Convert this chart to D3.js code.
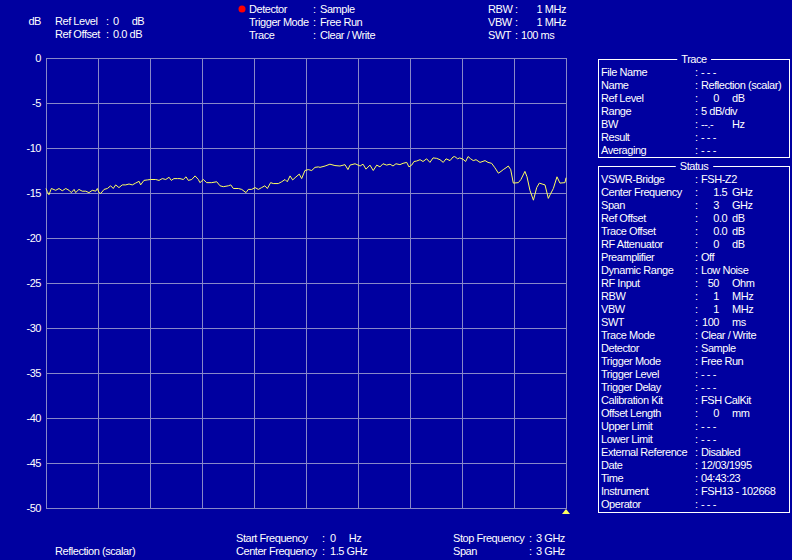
<!DOCTYPE html>
<head>
  <meta charset="utf-8">
  <script src="https://d3js.org/d3.v7.min.js"></script>
  <style>
    body { margin: 0; background: #0000a0; }
    svg text { font-family: Arial, "Liberation Sans", sans-serif; font-size: 11px; letter-spacing: -0.45px; fill: #fff; }
  </style>
</head>
<body>
  <div id="chart"></div>
  <script>
    // trace readings: frequency (GHz) and level (dB)
    var freqGHz = [0, 0.0075, 0.017, 0.031, 0.056, 0.075, 0.094, 0.114, 0.133, 0.146, 0.162, 0.171, 0.19, 0.209, 0.229, 0.248, 0.267, 0.287, 0.296, 0.306,
      0.316, 0.335, 0.354, 0.373, 0.388, 0.402, 0.421, 0.44, 0.46, 0.479, 0.498, 0.517, 0.537, 0.546, 0.565, 0.584, 0.604, 0.633, 0.652, 0.671,
      0.691, 0.71, 0.723, 0.738, 0.758, 0.773, 0.792, 0.808, 0.821, 0.841, 0.86, 0.879, 0.888, 0.908, 0.927, 0.956, 0.985, 1.004, 1.023, 1.052,
      1.066, 1.081, 1.11, 1.129, 1.154, 1.167, 1.187, 1.206, 1.225, 1.244, 1.263, 1.277, 1.296, 1.311, 1.34, 1.36, 1.379, 1.392, 1.408, 1.423,
      1.437, 1.461, 1.475, 1.494, 1.513, 1.533, 1.552, 1.571, 1.581, 1.61, 1.638, 1.667, 1.696, 1.725, 1.742, 1.754, 1.783, 1.812, 1.829, 1.846,
      1.869, 1.888, 1.908, 1.927, 1.944, 1.965, 1.985, 2.002, 2.019, 2.042, 2.06, 2.081, 2.094, 2.11, 2.123, 2.138, 2.158, 2.175, 2.196, 2.215,
      2.233, 2.254, 2.273, 2.292, 2.308, 2.331, 2.348, 2.358, 2.375, 2.387, 2.406, 2.421, 2.435, 2.45, 2.465, 2.481, 2.504, 2.533, 2.55, 2.571,
      2.59, 2.61, 2.625, 2.638, 2.654, 2.667, 2.681, 2.696, 2.725, 2.74, 2.763, 2.775, 2.792, 2.812, 2.831, 2.846, 2.862, 2.879, 2.898, 2.908,
      2.927, 2.948, 2.965, 2.994, 3.0];
    var levelDb = [-14.5, -14.85, -15.2, -14.5, -14.7, -14.5, -14.75, -14.5, -14.7, -14.96, -14.6, -14.96, -14.6, -14.8, -14.8, -14.96, -14.7, -14.8, -14.5, -14.96,
      -15.05, -14.6, -14.5, -14.2, -14.5, -14.1, -14.4, -14.1, -14.1, -14.0, -14.1, -13.9, -13.7, -14.1, -13.6, -13.55, -13.5, -13.5, -13.6, -13.4,
      -13.5, -13.25, -13.6, -13.4, -13.4, -13.4, -13.5, -13.2, -13.6, -13.5, -13.1, -13.5, -13.85, -13.5, -13.85, -13.85, -13.75, -14.2, -14.3, -14.2,
      -14.1, -14.5, -14.5, -14.6, -14.96, -14.6, -14.6, -14.4, -14.6, -14.4, -14.2, -14.5, -13.85, -13.95, -13.95, -13.75, -13.5, -13.75, -13.1, -13.55,
      -13.3, -12.9, -13.4, -12.5, -12.4, -12.5, -12.15, -12.1, -12.15, -12.0, -11.8, -11.95, -12.0, -11.85, -12.4, -11.9, -11.75, -12.0, -11.8, -12.35,
      -11.9, -12.5, -11.9, -12.1, -11.75, -11.9, -11.8, -12.0, -11.75, -11.85, -11.7, -11.6, -12.1, -11.9, -11.5, -11.45, -11.3, -11.5, -11.2, -11.6,
      -11.1, -11.15, -11.3, -11.6, -11.2, -11.4, -11.0, -10.95, -11.2, -11.1, -11.25, -11.5, -10.95, -11.2, -11.4, -11.3, -11.6, -11.4, -11.6, -11.7,
      -12.2, -12.8, -12.6, -12.4, -12.2, -12.0, -12.4, -13.9, -13.85, -13.5, -12.6, -13.2, -14.7, -15.8, -14.4, -13.9, -14.0, -14.1, -15.6, -15.2,
      -14.5, -13.2, -13.9, -13.85, -13.3];

    var yTicks = [0, -5, -10, -15, -20, -25, -30, -35, -40, -45, -50];

    var headerLeftLabels = ["Ref Level", "Ref Offset"];
    var headerLeftValues = ["0     dB", "0.0 dB"];
    var headerMidLabels = ["Detector", "Trigger Mode", "Trace"];
    var headerMidValues = ["Sample", "Free Run", "Clear / Write"];
    var headerRightLabels = ["RBW", "VBW", "SWT"];
    var headerRightValues = ["1 MHz", "1 MHz", "100 ms"];

    var traceLabels = ["File Name", "Name", "Ref Level", "Range", "BW", "Result", "Averaging"];
    var traceValues = ["- - -", "Reflection (scalar)", "0", "5 dB/div", "--.-", "- - -", "- - -"];
    var traceUnits = ["", "", "dB", "", "Hz", "", ""];

    var statusLabels = ["VSWR-Bridge", "Center Frequency", "Span", "Ref Offset", "Trace Offset", "RF Attenuator", "Preamplifier",
      "Dynamic Range", "RF Input", "RBW", "VBW", "SWT", "Trace Mode", "Detector", "Trigger Mode", "Trigger Level", "Trigger Delay",
      "Calibration Kit", "Offset Length", "Upper Limit", "Lower Limit", "External Reference", "Date", "Time", "Instrument", "Operator"];
    var statusValues = ["FSH-Z2", "1.5", "3", "0.0", "0.0", "0", "Off", "Low Noise", "50", "1", "1", "100", "Clear / Write", "Sample",
      "Free Run", "- - -", "- - -", "FSH CalKit", "0", "- - -", "- - -", "Disabled", "12/03/1995", "04:43:23", "FSH13 - 102668", "- - -"];
    var statusUnits = ["", "GHz", "GHz", "dB", "dB", "dB", "", "", "Ohm", "MHz", "MHz", "ms", "", "", "", "", "", "", "mm", "", "", "", "", "", "", ""];

    var footLeftLabels = ["Start Frequency", "Center Frequency"];
    var footLeftValues = ["0     Hz", "1.5 GHz"];
    var footRightLabels = ["Stop Frequency", "Span"];
    var footRightValues = ["3 GHz", "3 GHz"];

    var bg = "#0000a0", grid = "#8888c8", traceColor = "#ffff60";
    var width = 792, height = 560;

    var svg = d3.select("#chart").append("svg")
      .attr("width", width)
      .attr("height", height);
    svg.append("rect").attr("width", width).attr("height", height).attr("fill", bg);

    var x = d3.scaleLinear().domain([0, 3]).range([46, 566]);
    var y = d3.scaleLinear().domain([-50, 0]).range([508, 58]);
    var px = function(v) { return Math.round(v) + 0.5; };

    // grid
    var g = svg.append("g").attr("stroke", grid).attr("stroke-width", 1);
    g.selectAll("line.v")
        .data(d3.range(0, 3.0001, 0.3))
      .enter().append("line")
        .attr("x1", function(d) { return px(x(d)); })
        .attr("x2", function(d) { return px(x(d)); })
        .attr("y1", y(0)).attr("y2", y(-50) + 1);
    g.selectAll("line.h")
        .data(yTicks)
      .enter().append("line")
        .attr("x1", x(0)).attr("x2", x(3) + 1)
        .attr("y1", function(d) { return px(y(d)); })
        .attr("y2", function(d) { return px(y(d)); });

    // y axis labels (plain hyphen minus like the instrument)
    var yAxis = d3.axisLeft(y).tickValues(yTicks).tickSize(0).tickPadding(5)
      .tickFormat(function(d) { return String(d); });
    var ya = svg.append("g").attr("transform", "translate(" + x(0) + ",0)").call(yAxis);
    ya.select(".domain").remove();
    ya.selectAll("text").attr("fill", "#fff").style("font-size", "11px").attr("font-family", null);

    // trace
    var pts = d3.zip(freqGHz, levelDb);
    svg.append("path")
      .datum(pts)
      .attr("fill", "none")
      .attr("stroke", traceColor)
      .attr("stroke-width", 1)
      .attr("d", d3.line().x(function(d) { return x(d[0]); }).y(function(d) { return y(d[1]); }));

    // marker at stop frequency
    var mx = x(3);
    svg.append("path")
      .attr("d", "M" + mx + "," + (y(-50) + 1) + "L" + (mx + 4) + "," + (y(-50) + 6) + "L" + (mx - 4) + "," + (y(-50) + 6) + "Z")
      .attr("fill", traceColor);

    function row(parent, tx, ty, str, anchor) {
      return parent.append("text").attr("x", tx).attr("y", ty + 4)
        .attr("text-anchor", anchor || "start").text(str);
    }

    // header
    row(svg, 41, 21, "dB", "end");
    headerLeftLabels.forEach(function(l, i) {
      row(svg, 55, 21 + i * 13, l);
      row(svg, 106, 21 + i * 13, ":");
      row(svg, 113, 21 + i * 13, headerLeftValues[i]).attr("xml:space", "preserve");
    });
    svg.append("circle").attr("cx", 242).attr("cy", 9).attr("r", 3.5).attr("fill", "#ff0000");
    headerMidLabels.forEach(function(l, i) {
      row(svg, 249, 9 + i * 13, l);
      row(svg, 313, 9 + i * 13, ":");
      row(svg, 320, 9 + i * 13, headerMidValues[i]);
    });
    headerRightLabels.forEach(function(l, i) {
      row(svg, 488, 9 + i * 13, l);
      row(svg, 515, 9 + i * 13, ":");
      if (i < 2) row(svg, 566, 9 + i * 13, headerRightValues[i], "end");
      else row(svg, 521, 9 + i * 13, headerRightValues[i]);
    });

    // footer
    row(svg, 55, 551, "Reflection (scalar)");
    footLeftLabels.forEach(function(l, i) {
      row(svg, 236, 538 + i * 13, l);
      row(svg, 322, 538 + i * 13, ":");
      row(svg, 330, 538 + i * 13, footLeftValues[i]).attr("xml:space", "preserve");
    });
    footRightLabels.forEach(function(l, i) {
      row(svg, 453, 538 + i * 13, l);
      row(svg, 529, 538 + i * 13, ":");
      row(svg, 536, 538 + i * 13, footRightValues[i]);
    });

    // side panels
    function panel(title, top, bottom, labels, values, units) {
      var p = svg.append("g");
      p.append("rect")
        .attr("x", 598.5).attr("y", top + 0.5)
        .attr("width", 191).attr("height", bottom - top)
        .attr("fill", "none").attr("stroke", "#fff");
      var t = row(p, 694, top, title, "middle");
      var bb = t.node().getBBox();
      p.insert("rect", "text")
        .attr("x", bb.x - 4).attr("y", top - 2).attr("width", bb.width + 8).attr("height", 5)
        .attr("fill", bg);
      labels.forEach(function(l, i) {
        var ry = top + 13 + i * 13;
        row(p, 601, ry, l);
        row(p, 695, ry, ":");
        var v = values[i];
        if (units[i] && /^[0-9]/.test(v)) {
          var parts = v.split(".");
          row(p, 719, ry, parts[0], "end");
          if (parts.length > 1) row(p, 719, ry, "." + parts[1]);
        } else {
          row(p, 701, ry, v);
        }
        if (units[i]) row(p, 732, ry, units[i]);
      });
    }
    panel("Trace", 59, 157, traceLabels, traceValues, traceUnits);
    panel("Status", 166, 512, statusLabels, statusValues, statusUnits);
  </script>
</body>
